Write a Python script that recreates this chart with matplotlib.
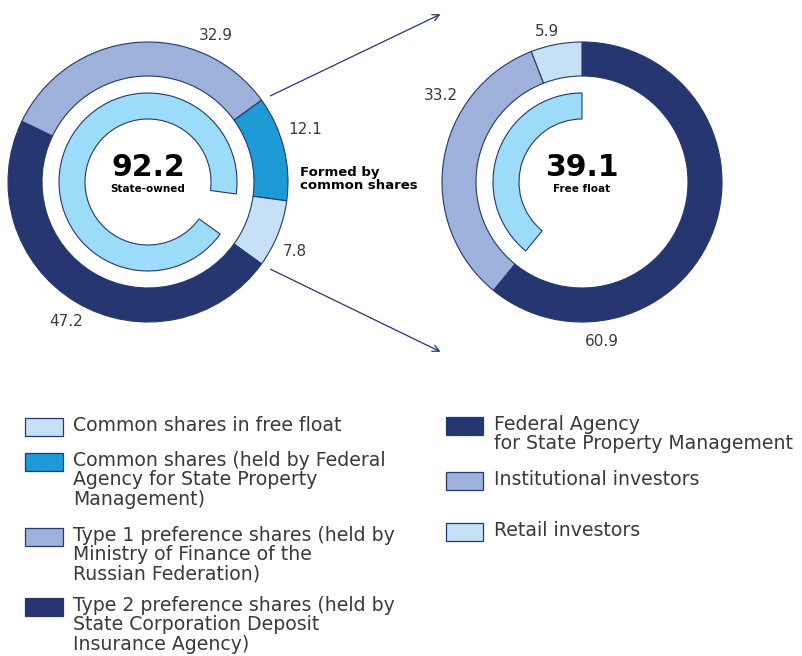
import matplotlib.pyplot as plt
from matplotlib.patches import Rectangle

# data
left_labels = ["Common shares (held by Federal\nAgency for State Property\nManagement)",
               "Common shares in free float",
               "Type 2 preference shares (held by\nState Corporation Deposit\nInsurance Agency)",
               "Type 1 preference shares (held by\nMinistry of Finance of the\nRussian Federation)"]
left_vals = [12.1, 7.8, 47.2, 32.9]
state_owned = 92.2
free_float_left = 7.8

right_labels = ["Federal Agency\nfor State Property Management", "Institutional investors", "Retail investors"]
right_vals = [60.9, 33.2, 5.9]
free_float = 39.1

navy = "#253670"
peri = "#9eb1da"
blue = "#1e9bd7"
light = "#c6e1f5"
inner_c = "#9ddcf8"
txt = "#3a3a3a"

W, H = 802, 656
fig = plt.figure(figsize=(W / 100, H / 100), dpi=100)
ax = fig.add_axes([0, 0, 1, 1])


def Y(y):
    return H - y


ring = dict(width=34, edgecolor=navy, linewidth=0.8)
inner = dict(width=26, edgecolor=navy, linewidth=0.8)

# left donut
lc = (148, Y(182))
start = (left_vals[0] + left_vals[1]) / 2 * 3.6
ax.pie(left_vals, colors=[blue, light, navy, peri], startangle=start, counterclock=False,
       radius=140, center=lc, wedgeprops=ring)
w, _ = ax.pie([state_owned, free_float_left], colors=[inner_c, "none"],
              startangle=start - left_vals[0] * 3.6, counterclock=True,
              radius=89, center=lc, wedgeprops=inner)
w[1].set_visible(False)

# right donut
rc = (582, Y(182))
ax.pie(right_vals, colors=[navy, peri, light], startangle=90, counterclock=False,
       radius=140, center=rc, wedgeprops=ring)
w, _ = ax.pie([free_float, 100 - free_float], colors=[inner_c, "none"], startangle=90,
              counterclock=True, radius=89, center=rc, wedgeprops=inner)
w[1].set_visible(False)

ax.set_xlim(0, W)
ax.set_ylim(0, H)
ax.set_aspect("equal")
ax.axis("off")

# value labels
for v, (x, y) in zip(left_vals, [(305, 130), (295, 252), (66, 322), (216, 35)]):
    ax.text(x, Y(y), f"{v}", ha="center", va="center", fontsize=11, color=txt)
for v, (x, y) in zip(right_vals, [(602, 342), (441, 96), (547, 31)]):
    ax.text(x, Y(y), f"{v}", ha="center", va="center", fontsize=11, color=txt)

# centre texts
ax.text(148, Y(168), f"{state_owned}", ha="center", va="center", fontsize=21.5,
        fontweight="bold", color="black")
ax.text(148, Y(189), "State-owned", ha="center", va="center", fontsize=7.5,
        fontweight="bold", color="black")
ax.text(582, Y(168), f"{free_float}", ha="center", va="center", fontsize=21.5,
        fontweight="bold", color="black")
ax.text(582, Y(189), "Free float", ha="center", va="center", fontsize=7.5,
        fontweight="bold", color="black")

ax.text(300, Y(179), "Formed by\ncommon shares", ha="left", va="center", fontsize=9.5,
        fontweight="bold", color="black", linespacing=1.05)

# arrows
for y0, y1 in [(97, 13), (268, 353)]:
    ax.annotate("", xy=(443, Y(y1)), xytext=(268, Y(y0)),
                arrowprops=dict(arrowstyle="->", color=navy, lw=0.9, mutation_scale=12))

# legends
left_order = [1, 0, 3, 2]
left_cols = [blue, light, navy, peri]
for i, yc in zip(left_order, [427, 462, 537, 607]):
    ax.add_patch(Rectangle((25, Y(yc) - 9), 38, 18, facecolor=left_cols[i], edgecolor=navy, lw=0.9))
    ax.text(73, Y(yc) + 11, left_labels[i], ha="left", va="top", fontsize=13.6, color=txt,
            linespacing=1.02)

right_cols = [navy, peri, light]
for i, yc in zip(range(3), [426, 481, 532]):
    ax.add_patch(Rectangle((446, Y(yc) - 9), 37, 18, facecolor=right_cols[i], edgecolor=navy, lw=0.9))
    ax.text(494, Y(yc) + 11, right_labels[i], ha="left", va="top", fontsize=13.6, color=txt,
            linespacing=1.02)

fig.savefig("out.png", dpi=100, facecolor="white")
